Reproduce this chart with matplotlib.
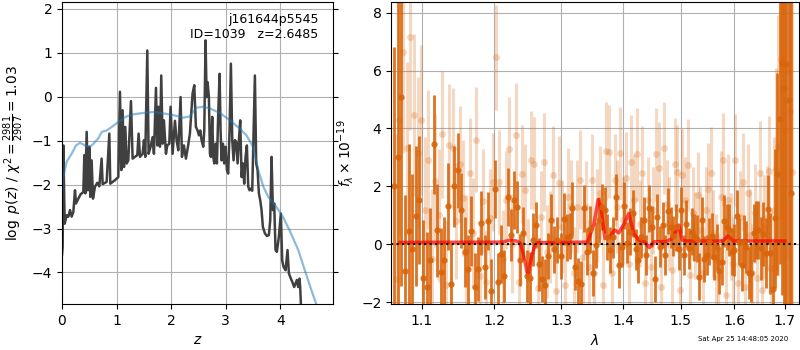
import numpy as np
import matplotlib
matplotlib.use('Agg')
import matplotlib.pyplot as plt

# p(z) curve (dark) and the smooth template-fit curve (blue)
z_grid = [0.0, 0.012, 0.024, 0.049, 0.085, 0.116, 0.147, 0.177, 0.208, 0.238, 0.256, 0.299, 0.342,
          0.391, 0.409, 0.427, 0.452, 0.476, 0.501, 0.519, 0.543, 0.568, 0.604, 0.647, 0.684, 0.726,
          0.745, 0.818, 0.867, 0.885, 0.971, 1.032, 1.062, 1.087, 1.111, 1.136, 1.160, 1.184, 1.215,
          1.264, 1.294, 1.337, 1.380, 1.404, 1.429, 1.477, 1.502, 1.526, 1.563, 1.587, 1.624, 1.661,
          1.685, 1.722, 1.746, 1.770, 1.795, 1.819, 1.844, 1.868, 1.905, 1.929, 1.966, 1.990, 2.027,
          2.070, 2.100, 2.131, 2.173, 2.198, 2.234, 2.271, 2.308, 2.344, 2.393, 2.424, 2.454, 2.485,
          2.509, 2.534, 2.558, 2.589, 2.607, 2.631, 2.650, 2.668, 2.692, 2.711, 2.729, 2.753, 2.772,
          2.790, 2.814, 2.839, 2.863, 2.888, 2.906, 2.924, 2.949, 2.973, 2.998, 3.022, 3.046, 3.071,
          3.095, 3.120, 3.144, 3.169, 3.193, 3.218, 3.242, 3.266, 3.291, 3.315, 3.339, 3.364, 3.388,
          3.413, 3.437, 3.462, 3.486, 3.511, 3.535, 3.559, 3.584, 3.608, 3.633, 3.657, 3.681, 3.718,
          3.755, 3.791, 3.816, 3.840, 3.865, 3.889, 3.913, 3.938, 3.974, 4.011, 4.035, 4.060, 4.097,
          4.133, 4.158, 4.182, 4.219, 4.255, 4.280, 4.304, 4.328, 4.353, 4.365, 4.383, 4.395]
logpz = [-3.6, -3.42, -1.11, -2.89, -2.70, -2.73, -2.58, -2.73, -2.62, -2.13, -2.43, -2.32, -2.22,
         -2.17, -1.33, -2.20, -0.80, -2.13, -1.14, -2.28, -1.45, -2.32, -2.05, -1.96, -2.04, -1.41,
         -1.99, -1.94, -0.84, -1.98, -1.90, -1.83, 0.11, -1.67, -0.31, -1.60, -0.69, -1.52, -1.45,
         -0.10, -1.41, -1.37, -1.33, -0.84, -1.37, -1.30, -0.99, -1.37, 1.05, -1.30, -1.14, -0.92,
         -1.30, 0.20, -1.11, -0.23, -1.14, 0.48, -1.07, -0.54, -1.30, -1.11, -1.07, -0.23, -1.30,
         -0.55, -0.99, -1.22, -0.01, -1.37, -1.11, -1.41, -1.14, -0.84, 0.07, 0.26, -0.69, -0.77,
         -0.88, -0.77, -0.99, -1.14, -0.77, 1.28, -0.01, 0.33, -0.01, -1.30, -1.37, -0.46, -1.37,
         -1.52, -1.07, -1.52, -0.39, 0.52, -0.77, -1.45, -1.07, -1.52, -1.14, -1.67, -1.75, -0.77,
         0.75, -0.99, -1.45, -0.99, -1.03, -1.52, -0.99, -0.54, -1.83, -1.52, -1.98, -1.37, -1.11,
         -2.05, -2.13, -2.09, -2.14, -0.77, 0.48, -1.52, -1.67, -2.20, -2.36, -2.58, -2.96, -3.11,
         -3.17, -3.15, -2.81, -1.37, -2.58, -2.43, -3.49, -3.53, -3.19, -2.66, -3.72, -3.87, -3.95,
         -3.49, -4.02, -4.10, -4.21, -4.33, -4.25, -4.17, -4.33, -4.14, -4.33, -4.86, -5.5]

z_smooth = [0.0, 0.024, 0.085, 0.177, 0.256, 0.33, 0.42, 0.51, 0.57, 0.665, 0.73, 0.82, 0.91, 1.03,
            1.18, 1.32, 1.50, 1.67, 1.85, 2.04, 2.22, 2.34, 2.40, 2.47, 2.59, 2.71, 2.89, 3.08, 3.26,
            3.38, 3.50, 3.60, 3.69, 3.78, 3.93, 4.05, 4.17, 4.33, 4.45, 4.57, 4.66, 4.75]
logpz_smooth = [-2.2, -1.83, -1.48, -1.30, -1.11, -1.05, -1.11, -1.14, -1.08, -0.95, -0.80, -0.77,
                -0.69, -0.58, -0.45, -0.40, -0.37, -0.35, -0.38, -0.42, -0.48, -0.45, -0.35, -0.25,
                -0.23, -0.27, -0.37, -0.54, -0.73, -0.88, -1.14, -1.68, -2.05, -2.28, -2.51, -2.74,
                -3.04, -3.49, -3.95, -4.40, -4.72, -5.1]

# 1D spectrum: two beams (Angstrom), flux and error in units of 1e-19
dark_wave = [10640, 10687, 10734, 10781, 10828, 10875, 10922, 10969, 11016, 11063, 11110, 11157, 11204,
             11251, 11298, 11345, 11392, 11439, 11486, 11533, 11580, 11627, 11674, 11721, 11768, 11815,
             11862, 11909, 11956, 12003, 12050, 12097, 12144, 12191, 12238, 12285, 12332, 12379, 12426,
             12473, 12520, 12567, 12614, 12661, 12708, 12755, 12802, 12849, 12896, 12943, 12990, 13037,
             13084, 13131, 13178, 13225, 13272, 13319, 13366, 13413, 13460, 13507, 13554, 13601, 13648,
             13695, 13742, 13789, 13836, 13883, 13930, 13977, 14024, 14071, 14118, 14165, 14212, 14259,
             14306, 14353, 14400, 14447, 14494, 14541, 14588, 14635, 14682, 14729, 14776, 14823, 14870,
             14917, 14964, 15011, 15058, 15105, 15152, 15199, 15246, 15293, 15340, 15387, 15434, 15481,
             15528, 15575, 15622, 15669, 15716, 15763, 15810, 15857, 15904, 15951, 15998, 16045, 16092,
             16139, 16186, 16233, 16280, 16327, 16374, 16421, 16468, 16515, 16562, 16609, 16656, 16703,
             16750, 16797, 16844, 16891, 16938, 16985, 17032, 17079, 17126]
dark_flux = [2.0, 3.0, 5.07, -0.9, 0.47, -0.17, 0.98, 1.53, -1.17, -1.46,
             -0.54, 3.45, 0.49, -0.94, -0.54, 1.32, -1.37, 2.0, 2.56, 1.18,
             -0.26, -0.86, 0.47, -1.48, -0.84, 0.75, -0.77, 0.82, -1.61, 1.9,
             -1.29, -0.33, -1.09, 1.64, 0.32, 1.53, 1.28, -0.54, 0.38, -1.09,
             -1.17, 0.17, 0.66, -0.69, -1.2, -1.41, -0.4, 0.84, -0.17, 0.15,
             -0.4, 0.89, 0.24, 0.29, 1.24, -0.77, -1.26, -1.37, 1.24, -0.25,
             0.52, -0.98, -0.03, 0.84, 1.3, 1.18,
             0.26, -0.2, 0.24, 1.64, -0.71, -0.08, 1.34, 0.06, 0.44, 1.07,
             -0.17, -0.52, 0.24, 0.84, -0.37, 1.24, 0.61, -1.2, 0.93, -0.08,
             0.67, -0.37, 1.16, 0.59, 0.29, 0.59, -0.17, 1.18, -0.37, 0.72,
             -0.14, 0.44, 0.24,
             0.2, -1.11, 0.84, -0.5, -0.37, 0.1, 0.3, -0.43, -0.08, -0.9,
             -0.6, 0.82, 0.6, 0.49, -0.25, -0.2, 0.98, 0.1, -0.71, 0.1,
             -0.08, -0.98, -1.0, 0.38, 0.49, 0.5, -0.14, 0.36, -0.3, 1.21,
             -0.3, -1.55, 0.9, 2.43, 4.34, 6.26, 5.4, 6.24, 4.98, 1.78]
dark_err = [4.8, 6.5, 6.5, 2.6, 3.0, 2.6, 2.4, 2.2, 2.0, 1.9,
            1.8, 1.7, 1.6, 1.5, 1.5, 1.5, 1.4, 1.4, 1.3, 1.3,
            1.2, 1.2, 1.2, 1.2, 1.1, 1.1, 1.1, 1.0, 1.1, 1.0,
            1.0, 1.0, 0.9, 1.0, 0.9, 1.0, 0.9, 0.9, 0.9, 0.9,
            0.9, 0.9, 0.8, 0.9, 0.8, 0.9, 0.8, 0.9, 0.8, 0.8,
            0.8, 0.9, 0.8, 0.8, 0.9, 0.8, 0.8, 0.8, 0.8, 0.8,
            0.8, 0.8, 0.8, 0.8, 0.8, 0.8,
            0.8, 0.8, 0.7, 0.8, 0.8, 0.7, 0.8, 0.7, 0.8, 0.8,
            0.7, 0.8, 0.7, 0.8, 0.7, 0.8, 0.7, 0.8, 0.8, 0.7,
            0.8, 0.7, 0.8, 0.7, 0.7, 0.8, 0.7, 0.8, 0.7, 0.8,
            0.7, 0.8, 0.8,
            0.8, 0.8, 0.8, 0.8, 0.7, 0.8, 0.8, 0.8, 0.8, 0.8,
            0.8, 0.9, 0.8, 0.9, 0.8, 0.9, 0.9, 0.8, 0.9, 0.9,
            0.9, 0.9, 1.0, 1.0, 1.0, 1.0, 1.1, 1.1, 1.2, 1.2,
            1.4, 1.6, 2.4, 3.5, 5.0, 8.0, 8.0, 9.0, 10.0, 10.0]

light_wave = [10663, 10710, 10757, 10804, 10851, 10898, 10945, 10992, 11039, 11086, 11133, 11180, 11227,
              11274, 11321, 11368, 11415, 11462, 11509, 11556, 11603, 11650, 11697, 11744, 11791, 11838,
              11885, 11932, 11979, 12026, 12073, 12120, 12167, 12214, 12261, 12308, 12355, 12402, 12449,
              12496, 12543, 12590, 12637, 12684, 12731, 12778, 12825, 12872, 12919, 12966, 13013, 13060,
              13107, 13154, 13201, 13248, 13295, 13342, 13389, 13436, 13483, 13530, 13577, 13624, 13671,
              13718, 13765, 13812, 13859, 13906, 13953, 14000, 14047, 14094, 14141, 14188, 14235, 14282,
              14329, 14376, 14423, 14470, 14517, 14564, 14611, 14658, 14705, 14752, 14799, 14846, 14893,
              14940, 14987, 15034, 15081, 15128, 15175, 15222, 15269, 15316, 15363, 15410, 15457, 15504,
              15551, 15598, 15645, 15692, 15739, 15786, 15833, 15880, 15927, 15974, 16021, 16068, 16115,
              16162, 16209, 16256, 16303, 16350, 16397, 16444, 16491, 16538, 16585, 16632, 16679, 16726,
              16773, 16820, 16867, 16914, 16961, 17008, 17055, 17102, 17149]
light_flux = [-1.2, 4.3, 6.64, 3.31, 7.14, 4.46, 3.17, 4.29, 1.2, 2.93,
              -0.5, 2.2, 1.0, 3.8, -1.4, 3.43, 3.31, 0.8, 2.77, 1.6,
              -0.2, 2.45, 0.4, 3.62, -1.1, 1.5, -1.3, 0.9, 2.16, 6.45,
              2.16, -0.5, 1.53, 3.28, 0.03, 3.77, -1.3, 2.43, 1.87, -0.83,
              2.91, 2.79, -1.5, 0.95, 2.85, -0.25, 0.26, 2.39, -1.6, 2.13,
              0.61, -1.4, 1.64, 1.32, -1.0, 1.3, 2.24, -0.43, 1.28, -0.77,
              2.22, -1.0, 1.01, 1.78, -1.4, 3.22,
              3.2, -1.0, 2.22, 1.3, 3.14, 0.84, 2.28, -0.66, 2.85, 1.53,
              3.11, 0.72, 2.47, -1.34, 1.53, -0.77, 1.18, 3.11, 2.62, -1.46,
              3.33, 1.41, 0.72, -0.89, 2.77, 2.51, -1.57, 2.39, 1.53, 2.74,
              -1.06, 1.07, 0.3,
              1.7, 0.49, -1.0, 1.18, 1.9, 2.45, 0.38, -0.54, -1.11, 1.64,
              2.93, -1.75, 1.53, 0.26, -0.66, 2.91, -1.34, 0.95, 2.16, -1.46,
              1.76, 0.32, -1.0, 1.07, -1.17, 2.45, -1.57, 0.6, 0.9, 2.54,
              -0.8, 1.2, 2.6, 3.4, 6.38, 5.41, 3.9, 6.0, 4.6, 2.5]
light_err = [5.0, 4.0, 3.5, 3.0, 3.2, 2.8, 2.6, 2.6, 2.5, 2.4,
             2.4, 2.3, 2.3, 2.2, 2.2, 2.1, 2.1, 2.0, 2.0, 2.0,
             1.9, 1.9, 1.9, 1.8, 1.8, 1.8, 1.8, 1.7, 1.7, 1.8,
             1.8, 1.7, 1.7, 1.8, 1.7, 1.8, 1.7, 1.7, 1.6, 1.7,
             1.7, 1.6, 1.7, 1.6, 1.7, 1.6, 1.6, 1.7, 1.6, 1.6,
             1.6, 1.6, 1.7, 1.6, 1.6, 1.6, 1.7, 1.6, 1.6, 1.6,
             1.6, 1.6, 1.6, 1.6, 1.6, 1.7,
             1.6, 1.5, 1.6, 1.6, 1.6, 1.5, 1.6, 1.5, 1.6, 1.6,
             1.6, 1.5, 1.6, 1.5, 1.5, 1.6, 1.5, 1.6, 1.6, 1.5,
             1.6, 1.5, 1.6, 1.5, 1.6, 1.6, 1.5, 1.6, 1.5, 1.6,
             1.5, 1.6, 1.5,
             1.5, 1.5, 1.6, 1.5, 1.6, 1.6, 1.5, 1.6, 1.5, 1.6,
             1.6, 1.6, 1.6, 1.5, 1.6, 1.6, 1.6, 1.6, 1.7, 1.6,
             1.7, 1.6, 1.7, 1.7, 1.7, 1.8, 1.7, 1.8, 1.8, 1.9,
             2.0, 2.5, 3.5, 4.5, 5.5, 6.0, 6.0, 6.5, 7.0, 7.0]

# best-fit model
model_wave = [1.072, 1.212, 1.222, 1.232, 1.238, 1.243, 1.249, 1.255, 1.261, 1.342, 1.352, 1.359,
              1.364, 1.370, 1.378, 1.386, 1.393, 1.402, 1.410, 1.418, 1.427, 1.436, 1.445, 1.453,
              1.474, 1.485, 1.497, 1.503, 1.510, 1.578, 1.588, 1.598, 1.700]
model_flux = [0.07, 0.08, 0.15, 0.12, 0.05, -0.4, -1.07, -0.4, 0.06, 0.08, 0.7, 1.55,
              1.2, 0.2, 0.25, 0.5, 0.4, 0.72, 1.07, 0.38, 0.15, 0.09, -0.11, 0.09,
              0.1, 0.2, 0.67, 0.15, 0.12, 0.12, 0.29, 0.12, 0.12]

fig = plt.figure(figsize=(8, 3.5), dpi=100)

# p(z) panel
ax1 = fig.add_axes([0.0775, 0.131, 0.339, 0.863])
ax1.plot(z_grid, logpz, color='0.25', lw=1.8)
ax1.plot(z_smooth, logpz_smooth, color='tab:blue', alpha=0.5, lw=1.6)
ax1.set_xlim(0, 4.97)
ax1.set_ylim(-4.72, 2.15)
ax1.set_xticks([0, 1, 2, 3, 4])
ax1.set_yticks([-4, -3, -2, -1, 0, 1, 2])
ax1.yaxis.set_ticks_position('both')
ax1.grid()
ax1.set_xlabel('$z$')
ax1.set_ylabel(r'$\log\ p(z)$ / $\chi^2=\frac{2981}{2907}=1.03$')
ax1.text(0.945, 0.965, 'j161644p5545\nID=1039   z=2.6485', transform=ax1.transAxes,
         ha='right', va='top', fontsize=9)

# spectrum panel
ax2 = fig.add_axes([0.489, 0.131, 0.5095, 0.863])
orange = '#d9650b'
ax2.errorbar(np.array(light_wave) / 1e4, light_flux, yerr=light_err, fmt='o', color=orange,
             alpha=0.25, ms=5, elinewidth=2.2, mew=0, capsize=0)
ax2.errorbar(np.array(dark_wave) / 1e4, dark_flux, yerr=dark_err, fmt='o', color=orange,
             alpha=0.9, ms=4.5, elinewidth=2, mew=0, capsize=0)
ax2.plot(model_wave, model_flux, color='red', lw=2.5, alpha=0.7)
ax2.axhline(0, color='k', ls=':', lw=1.5)
ax2.set_xscale('log')
ax2.set_xlim(1.0604, 1.7285)
ax2.set_ylim(-2.06, 8.36)
ax2.set_xticks([1.1, 1.2, 1.3, 1.4, 1.5, 1.6, 1.7])
ax2.set_xticklabels(['1.1', '1.2', '1.3', '1.4', '1.5', '1.6', '1.7'])
ax2.xaxis.set_minor_locator(matplotlib.ticker.NullLocator())
ax2.set_yticks([-2, 0, 2, 4, 6, 8])
ax2.grid()
ax2.set_xlabel(r'$\lambda$')
ax2.set_ylabel(r'$f_\lambda \times 10^{-19}$')

fig.text(0.985, 0.024, 'Sat Apr 25 14:48:05 2020', ha='right', va='bottom', fontsize=5)

fig.savefig('out.png', dpi=100)
